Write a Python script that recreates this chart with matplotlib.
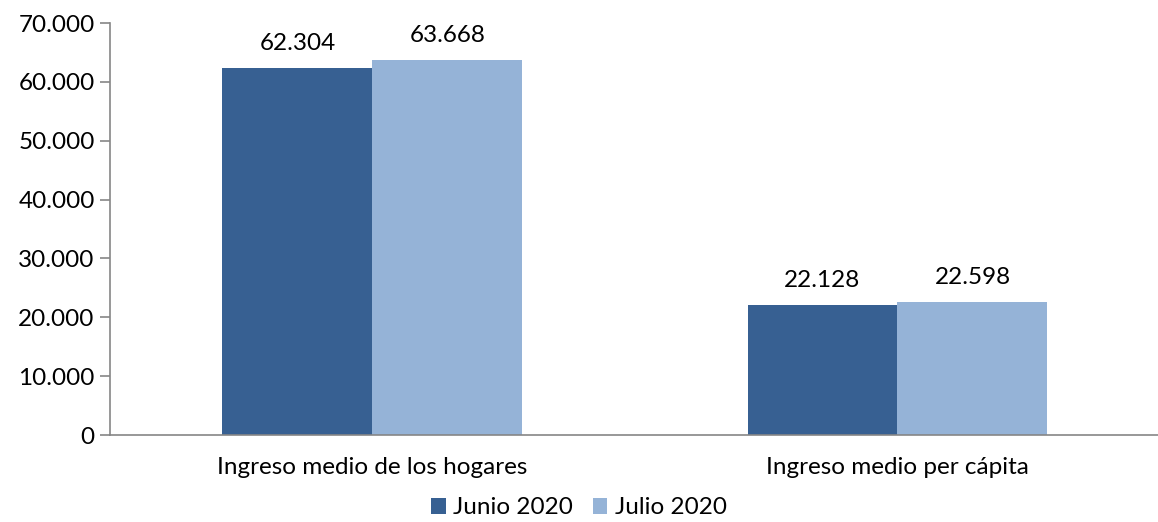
import matplotlib.pyplot as plt
import numpy as np
from matplotlib.ticker import FuncFormatter

categories = ["Ingreso medio de los hogares", "Ingreso medio per cápita"]
series_names = ["Junio 2020", "Julio 2020"]
junio = [62304, 22128]
julio = [63668, 22598]
colors = ["#376092", "#95B3D7"]

plt.rcParams['font.family'] = ['Lato', 'DejaVu Sans']
FS = 17.5

fig = plt.figure(figsize=(11.58, 5.22), dpi=100)
ax = fig.add_axes([110 / 1158, 87 / 522, 1048 / 1158, 412 / 522])

x = np.arange(len(categories))
w = 150 / 525
fmt = lambda v: f"{v:,.0f}".replace(",", ".")

for i, (vals, name) in enumerate(zip([junio, julio], series_names)):
    bars = ax.bar(x + (i - 0.5) * w, vals, width=w, color=colors[i], label=name)
    for b, v in zip(bars, vals):
        ax.annotate(fmt(v), (b.get_x() + b.get_width() / 2, v), xytext=(0, 10),
                    textcoords="offset points", ha="center", va="bottom", fontsize=FS, color="#000000")

ax.set_ylim(0, 70000)
ax.set_xlim(-0.5, 1.5 - 2 / 525)
ax.set_yticks(range(0, 70001, 10000))
ax.yaxis.set_major_formatter(FuncFormatter(lambda v, p: fmt(v)))
ax.set_xticks(x)
ax.set_xticklabels(categories)
ax.tick_params(axis="x", length=0, pad=16, labelsize=FS)
ax.tick_params(axis="y", length=7, width=1.2, color="#868686", pad=4, labelsize=FS)
for s in ["top", "right"]:
    ax.spines[s].set_visible(False)
for s in ["left", "bottom"]:
    ax.spines[s].set_color("#868686")
    ax.spines[s].set_linewidth(1.2)

fig.legend(loc="lower center", bbox_to_anchor=(0.5, -0.035), ncol=2, frameon=False, fontsize=FS,
           handlelength=0.6, handleheight=0.6, handletextpad=0.3, columnspacing=0.8)

fig.savefig("out.png", dpi=100)
